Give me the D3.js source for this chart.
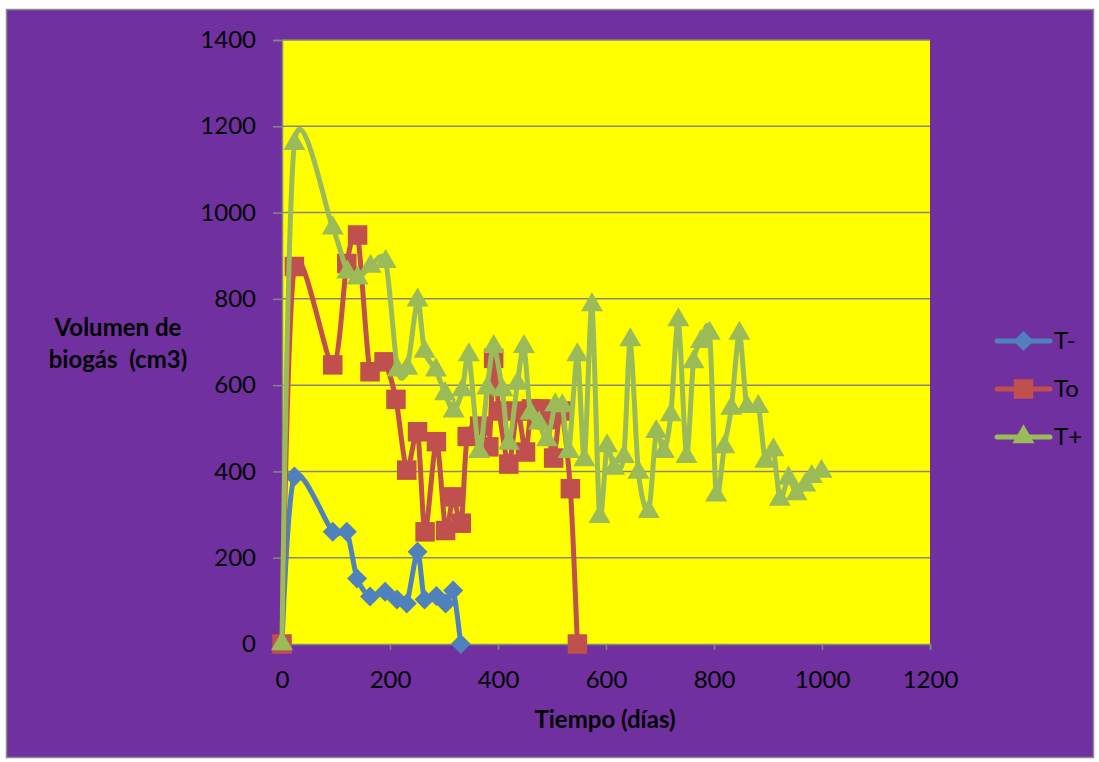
<!DOCTYPE html>
<html>
<head>
<meta charset="utf-8">
<script src="https://cdn.jsdelivr.net/npm/d3@7"></script>
<style>
  html, body { margin: 0; padding: 0; background: #ffffff; }
  svg { display: block; }
  text { font-family: Lato, "Open Sans", sans-serif; }
</style>
</head>
<body>
<svg id="chart" width="1099" height="762"></svg>
<script>
// Biogas volume per treatment over time
const seriesNames = ["T-", "To", "T+"];

const tMinusDays = [0, 23, 94, 120, 139, 163, 191, 213, 231, 251, 264, 286, 303, 317, 331];
const tMinusVol  = [0, 388, 260, 260, 152, 110, 121, 103, 94, 214, 103, 111, 94, 124, 0];

const tZeroDays = [0, 23, 94, 120, 140, 163, 189, 211, 231, 251, 265, 286, 303, 317, 332, 343, 366, 383, 392, 402, 420, 436, 451, 462, 479, 490, 503, 517, 534, 547];
const tZeroVol  = [0, 875, 647, 882, 948, 631, 654, 567, 403, 492, 260, 469, 263, 341, 280, 481, 505, 457, 662, 540, 417, 540, 445, 545, 545, 520, 431, 540, 360, 0];

const tPlusDays = [0, 23, 94, 121, 140, 164, 192, 214, 232, 251, 264, 285, 302, 318, 334, 346, 365, 380, 392, 408, 420, 436, 448, 460, 476, 491, 506, 519, 531, 547, 560, 574, 588, 602, 615, 633, 645, 660, 679, 693, 707, 720, 734, 749, 762, 776, 792, 804, 819, 832, 847, 861, 882, 895, 910, 922, 938, 953, 969, 981, 999];
const tPlusVol  = [0, 1160, 964, 862, 848, 875, 886, 635, 639, 797, 678, 635, 580, 540, 589, 670, 446, 593, 689, 589, 465, 604, 689, 535, 512, 473, 554, 552, 446, 670, 427, 786, 295, 459, 407, 434, 705, 398, 307, 492, 446, 531, 751, 434, 654, 701, 720, 345, 457, 546, 720, 550, 550, 423, 450, 335, 384, 348, 368, 388, 400];

const xTicks = [0, 200, 400, 600, 800, 1000, 1200];
const yTicks = [0, 200, 400, 600, 800, 1000, 1200, 1400];

const xTitle = "Tiempo (días)";
const yTitle = ["Volumen de", "biogás  (cm3)"];

const seriesColors = ["#4F81BD", "#C0504D", "#9BBB59"];

// square diamond marker (rotated square)
const symbolRhombus = {
  draw(ctx, size) {
    const r = Math.sqrt(size / 2);
    ctx.moveTo(0, -r); ctx.lineTo(r, 0); ctx.lineTo(0, r); ctx.lineTo(-r, 0); ctx.closePath();
  }
};

const series = [
  { name: seriesNames[0], color: seriesColors[0], marker: symbolRhombus, size: 200, pts: tMinusDays.map((d, i) => [d, tMinusVol[i]]) },
  { name: seriesNames[1], color: seriesColors[1], marker: d3.symbolSquare, size: 380, pts: tZeroDays.map((d, i) => [d, tZeroVol[i]]) },
  { name: seriesNames[2], color: seriesColors[2], marker: d3.symbolTriangle, size: 210, pts: tPlusDays.map((d, i) => [d, tPlusVol[i]]) }
];

const svg = d3.select("#chart");

// chart frame
svg.append("rect")
  .attr("x", 6.5).attr("y", 9.5).attr("width", 1087).attr("height", 748)
  .attr("fill", "#7030A0").attr("stroke", "#8C8C8C").attr("stroke-width", 1.5);

const plot = { left: 282, right: 930, top: 40, bottom: 644 };

const x = d3.scaleLinear().domain([0, 1200]).range([plot.left, plot.right]);
const y = d3.scaleLinear().domain([0, 1400]).range([plot.bottom, plot.top]);

// plot area
svg.append("rect")
  .attr("x", plot.left).attr("y", plot.top)
  .attr("width", plot.right - plot.left).attr("height", plot.bottom - plot.top)
  .attr("fill", "#FFFF00");

// horizontal gridlines
svg.append("g").selectAll("line")
  .data(yTicks.filter(v => v > 0))
  .join("line")
  .attr("x1", plot.left).attr("x2", plot.right)
  .attr("y1", d => y(d)).attr("y2", d => y(d))
  .attr("stroke", "#868686").attr("stroke-width", 1.5);

// y axis
const yAxis = svg.append("g")
  .attr("transform", `translate(${plot.left},0)`)
  .call(d3.axisLeft(y).tickValues(yTicks).tickFormat(d3.format("d")).tickSize(9).tickPadding(17));
yAxis.select(".domain").attr("stroke", "#868686").attr("stroke-width", 1.5);
yAxis.selectAll(".tick line").attr("stroke", "#868686").attr("stroke-width", 1.5);
yAxis.selectAll(".tick text")
  .attr("fill", "#000").style("font-size", "24px")
  .style("font-family", "Lato, sans-serif");

// x axis
const xAxis = svg.append("g")
  .attr("transform", `translate(0,${plot.bottom})`)
  .call(d3.axisBottom(x).tickValues(xTicks).tickFormat(d3.format("d")).tickSize(6).tickPadding(21));
xAxis.select(".domain").attr("stroke", "#868686").attr("stroke-width", 1.5);
xAxis.selectAll(".tick line").attr("stroke", "#868686").attr("stroke-width", 1.5);
xAxis.selectAll(".tick text")
  .attr("fill", "#000").style("font-size", "24px")
  .style("font-family", "Lato, sans-serif");

// axis titles
svg.append("text")
  .attr("x", 605).attr("y", 728)
  .attr("text-anchor", "middle")
  .style("font-size", "24px").style("font-weight", "bold")
  .text(xTitle);

svg.append("text")
  .attr("x", 118).attr("y", 336)
  .attr("text-anchor", "middle")
  .style("font-size", "24px").style("font-weight", "bold")
  .text(yTitle[0]);
svg.append("text")
  .attr("x", 118).attr("y", 368)
  .attr("text-anchor", "middle")
  .style("font-size", "24px").style("font-weight", "bold")
  .style("white-space", "pre")
  .attr("xml:space", "preserve")
  .text(yTitle[1]);

// series lines and markers (smoothed)
const line = d3.line()
  .x(d => x(d[0])).y(d => y(d[1]))
  .curve(d3.curveCardinal.tension(0.2));

const gSeries = svg.append("g");
series.forEach(s => {
  const g = gSeries.append("g");
  g.append("path")
    .attr("d", line(s.pts))
    .attr("fill", "none")
    .attr("stroke", s.color)
    .attr("stroke-width", 5)
    .attr("stroke-linejoin", "round")
    .attr("stroke-linecap", "round");
  g.selectAll("path.mk")
    .data(s.pts)
    .join("path")
    .attr("class", "mk")
    .attr("d", d3.symbol().type(s.marker).size(s.size))
    .attr("transform", d => `translate(${x(d[0])},${y(d[1])})`)
    .attr("fill", s.color);
});

// legend
const legend = svg.append("g");
series.forEach((s, i) => {
  const cy = 341 + i * 48;
  legend.append("line")
    .attr("x1", 997).attr("x2", 1050)
    .attr("y1", cy).attr("y2", cy)
    .attr("stroke", s.color).attr("stroke-width", 5)
    .attr("stroke-linecap", "round");
  legend.append("path")
    .attr("d", d3.symbol().type(s.marker).size(s.size)())
    .attr("transform", `translate(1023.5,${cy})`)
    .attr("fill", s.color);
  legend.append("text")
    .attr("x", 1054).attr("y", cy)
    .attr("dy", "0.35em")
    .style("font-size", "24px")
    .attr("fill", "#000")
    .text(s.name);
});
</script>
</body>
</html>
